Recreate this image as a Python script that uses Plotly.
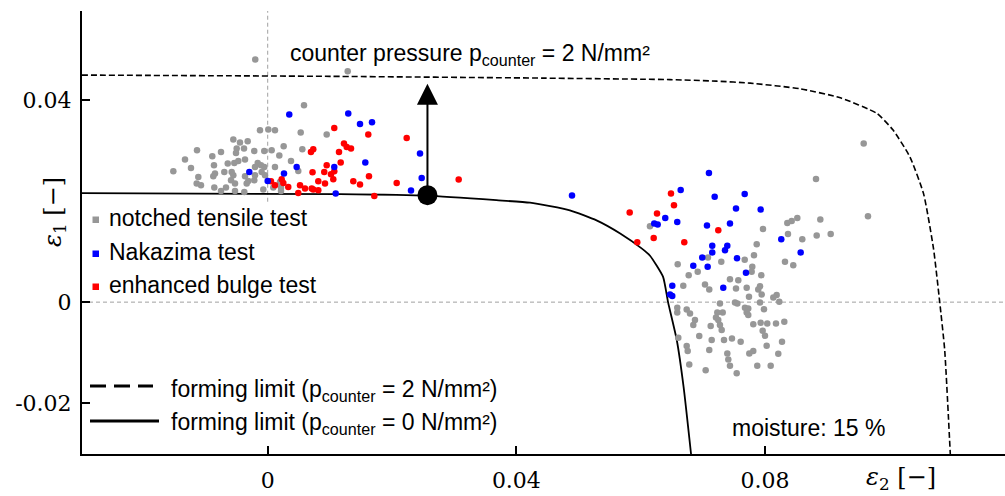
import plotly.graph_objects as go

# ---------------- data ----------------
notched_x = [-0.0020, 0.01287, 0.00584, -0.00124, 0.0001, 0.00117, 0.00531, 0.00949, -0.00553, -0.00446,
             -0.00322, -0.00499, -0.00381, -0.01137, -0.00751, -0.0051, -0.00216, -0.00055, 0.00064, 0.00257,
             0.00557, -0.00891, -0.00365, 0.00187, -0.0133, -0.00643, -0.00537, -0.00473, -0.00161, -0.00108,
             0.00375, -0.00864, -0.00204, -0.00055, 0.00117, -0.01234, -0.01518, -0.00698, -0.00848, -0.00097,
             -0.00579, -0.00875, -0.00553, -0.00365, -0.00204, -0.00043, -0.01116, -0.0059, -0.00312, -0.00216,
             -0.01142, -0.01073, -0.00526, -0.00338, 0.00198, -0.00859, -0.00671, 0.0009, 0.00214, -0.00751,
             -0.00526, -0.00376, -0.00071, 0.00214, 0.00492,
             0.06149, 0.06595, 0.07082, 0.09587, 0.0882, 0.09656, 0.08519, 0.08358, 0.08429, 0.08889,
             0.07967, 0.08369, 0.08599, 0.08831, 0.09056, 0.07866, 0.07822, 0.07673, 0.07296, 0.08321,
             0.08454, 0.07795, 0.06772, 0.06917, 0.07785, 0.0794, 0.07436, 0.0757, 0.06685, 0.07034,
             0.07103, 0.07533, 0.07705, 0.07919, 0.07891, 0.07946, 0.07742, 0.08187, 0.08133, 0.08229,
             0.07275, 0.07517, 0.07554, 0.07919, 0.06588, 0.0674, 0.06793, 0.06588, 0.07677, 0.0773,
             0.07705, 0.0773, 0.07983, 0.07232, 0.07319, 0.07211, 0.07248, 0.06873, 0.06846, 0.07126,
             0.07275, 0.07303, 0.07811, 0.0793, 0.08036, 0.08176, 0.0831, 0.07962, 0.07999, 0.06605,
             0.06942, 0.07142, 0.0734, 0.07468, 0.07608, 0.08273, 0.0674, 0.06756, 0.07103, 0.08026,
             0.07393, 0.07409, 0.07747, 0.07811, 0.08213, 0.06781, 0.07436, 0.07875, 0.08091, 0.07045,
             0.07544]
notched_y = [0.0481, 0.04574, 0.03901, 0.03406, 0.0342, 0.03406, 0.0336, 0.03321, 0.03222, 0.03162,
             0.03188, 0.03044, 0.03044, 0.0301, 0.02976, 0.02956, 0.02996, 0.02996, 0.0301, 0.03089,
             0.0303, 0.02891, 0.02826, 0.02905, 0.02826, 0.02747, 0.02758, 0.02798, 0.02758, 0.02713,
             0.02798, 0.02713, 0.02679, 0.02679, 0.02679, 0.02659, 0.02594, 0.0258, 0.02549, 0.0258,
             0.0258, 0.02495, 0.02515, 0.02495, 0.02515, 0.02515, 0.02481, 0.02416, 0.02402, 0.02416,
             0.0235, 0.02317, 0.0235, 0.0235, 0.02382, 0.02271, 0.02271, 0.02271, 0.02271, 0.02204,
             0.02204, 0.02184, 0.02232, 0.02204, 0.026,
             0.01505, 0.00752, 0.00885, 0.03143, 0.02442, 0.01703, 0.01669, 0.0157, 0.0161, 0.01638,
             0.01451, 0.01352, 0.01248, 0.01321, 0.01352, 0.01149, 0.00931, 0.00838, 0.00798, 0.00798,
             0.00733, 0.00699, 0.00535, 0.006, 0.006, 0.00535, 0.00455, 0.00436, 0.00323, 0.0035,
             0.00251, 0.00271, 0.00283, 0.00317, 0.00251, 0.00152, 0.00105, 0.00139, 0.00093, 0.00006,
             -0.00026, -0.00006, -0.00026, -0.00006, -0.00113, -0.00145, -0.00224, -0.00204, -0.00113, -0.00125,
             -0.00204, -0.00257, -0.00139, -0.00204, -0.00204, -0.00303, -0.00356, -0.00356, -0.00455, -0.00475,
             -0.00455, -0.00554, -0.00436, -0.0041, -0.00422, -0.00422, -0.0039, -0.00568, -0.00667, -0.00707,
             -0.00673, -0.00752, -0.00752, -0.00719, -0.00786, -0.00786, -0.00871, -0.0097, -0.0095, -0.00865,
             -0.01016, -0.01135, -0.01016, -0.0097, -0.01024, -0.01234, -0.01261, -0.01261, -0.01261, -0.01352,
             -0.01412]

nakazima_x = [-0.00296, 0.0, 0.00262, 0.00347, 0.00466, 0.01071, 0.01094, 0.01296, 0.01485, 0.01678,
              0.0157, 0.0245, 0.02477, 0.02305, 0.04895,
              0.07098, 0.06643, 0.0719, 0.06395, 0.06588, 0.06218, 0.06273, 0.07066, 0.07151, 0.07151,
              0.0699, 0.06846, 0.07077, 0.07673, 0.07533, 0.0793, 0.07436, 0.08261, 0.07393, 0.07356,
              0.08573, 0.07549, 0.07693, 0.06508, 0.07328, 0.06471, 0.06508]
nakazima_y = [0.0258, 0.02402, 0.02549, 0.03717, 0.02679, 0.02679, 0.02152, 0.03737, 0.03531, 0.03564,
              0.02766, 0.02945, 0.02461, 0.02212, 0.02113,
              0.0256, 0.02224, 0.02089, 0.01669, 0.0159, 0.01558, 0.01539, 0.01519, 0.01115, 0.00984,
              0.00885, 0.00719, 0.00699, 0.02145, 0.01855, 0.01836, 0.01558, 0.01248, 0.01115, 0.0103,
              0.00984, 0.00871, 0.0058, 0.00323, 0.00283, 0.00152, 0.00119]

bulge_x = [0.00053, 0.00117, 0.00225, 0.00251, 0.00331, 0.0052, 0.006, 0.00708, 0.00492, 0.00696,
           0.00733, 0.00721, 0.00814, 0.00814, 0.00922, 0.0091, 0.00949, 0.01018, 0.01055, 0.01071,
           0.01071, 0.01147, 0.01174, 0.01227, 0.01271, 0.0134, 0.01377, 0.01485, 0.01618, 0.01629,
           0.01715, 0.02075, 0.02236, 0.03072, 0.00733,
           0.06487, 0.06535, 0.05823, 0.06262, 0.06209, 0.06701, 0.05945, 0.07248]
bulge_y = [0.02396, 0.02317, 0.02436, 0.02362, 0.02283, 0.02317, 0.02251, 0.02251, 0.02164, 0.02976,
           0.0303, 0.02574, 0.02396, 0.02218, 0.0235, 0.0258, 0.02713, 0.02535, 0.02436, 0.02594,
           0.03451, 0.02976, 0.02766, 0.03143, 0.03075, 0.03044, 0.02396, 0.02331, 0.03321, 0.02495,
           0.02105, 0.02362, 0.03253, 0.0243, 0.02232,
           0.02152, 0.01921, 0.01776, 0.01756, 0.01273, 0.01188, 0.01188, 0.01426]

fl0_x = [-0.0299, 0.0116, 0.0257, 0.0368, 0.0422, 0.0486, 0.0529, 0.0567, 0.0602, 0.0615,
         0.0636, 0.0644, 0.0658, 0.0669, 0.0681]
fl0_y = [0.0216, 0.0214, 0.0211, 0.0202, 0.0197, 0.0182, 0.0162, 0.0136, 0.0106, 0.0092,
         0.0050, 0.0, -0.0075, -0.0168, -0.0301]

fl2_x = [-0.0299, 0.0100, 0.0443, 0.0647, 0.0722, 0.0776, 0.0856, 0.0921, 0.0980, 0.1006,
         0.1033, 0.1055, 0.1071, 0.1081, 0.1089, 0.1098]
fl2_y = [0.0450, 0.04475, 0.0444, 0.0441, 0.0438, 0.0434, 0.0423, 0.0405, 0.0374, 0.0341,
         0.0288, 0.0215, 0.0106, 0.0, -0.0095, -0.0301]

point_x = [0.0257]
point_y = [0.0212]
arrow_tip_y = 0.0433

x_tick_vals = [0, 0.04, 0.08]
x_tick_text = ["0", "0.04", "0.08"]
y_tick_vals = [-0.02, 0, 0.04]
y_tick_text = ["-0.02", "0", "0.04"]

x_range = [-0.02987, 0.1186]
y_range = [-0.0301, 0.0577]

# ---------------- layout helpers ----------------
W, H = 1005, 496
L, R, T, B = 82, 0, 11, 42
PW, PH = W - L - R, H - T - B


def px(xp):
    return (xp - L) / PW


def py(yp):
    return (H - B - yp) / PH


SANS = "Liberation Sans, Arial, sans-serif"
SERIF = "DejaVu Serif, serif"
GREY = "#979797"

fig = go.Figure()

fig.add_trace(go.Scatter(x=fl2_x, y=fl2_y, mode="lines",
                         line=dict(color="black", width=1.6, dash="6px,3px", shape="spline", smoothing=0.5),
                         showlegend=False, hoverinfo="skip"))
fig.add_trace(go.Scatter(x=fl0_x, y=fl0_y, mode="lines",
                         line=dict(color="black", width=1.8, shape="spline", smoothing=0.5),
                         showlegend=False, hoverinfo="skip"))

fig.add_trace(go.Scatter(x=notched_x, y=notched_y, mode="markers",
                         marker=dict(color=GREY, size=6.5, line=dict(width=0)), showlegend=False))
fig.add_trace(go.Scatter(x=bulge_x, y=bulge_y, mode="markers",
                         marker=dict(color="#ff0000", size=6.5, line=dict(width=0)), showlegend=False))
fig.add_trace(go.Scatter(x=nakazima_x, y=nakazima_y, mode="markers",
                         marker=dict(color="#0000ff", size=6.5, line=dict(width=0)), showlegend=False))

fig.add_trace(go.Scatter(x=point_x, y=point_y, mode="markers",
                         marker=dict(color="black", size=20), showlegend=False))

annotations = []
# arrow
annotations.append(dict(x=point_x[0], y=arrow_tip_y, ax=point_x[0], ay=point_y[0],
                        xref="x", yref="y", axref="x", ayref="y", text="",
                        showarrow=True, arrowhead=2, arrowsize=2.1, arrowwidth=2, arrowcolor="black"))

sub_txt = "p<sub>counter</sub>"
annotations.append(dict(x=px(288), y=py(55), xref="paper", yref="paper", xanchor="left", yanchor="middle",
                        text="counter pressure " + sub_txt + " = 2 N/mm²", showarrow=False,
                        font=dict(family=SANS, size=23, color="black")))
annotations.append(dict(x=px(730), y=py(428), xref="paper", yref="paper", xanchor="left", yanchor="middle",
                        text="moisture: 15 %", showarrow=False,
                        font=dict(family=SANS, size=23, color="black")))

# legend texts
leg_items = [("notched tensile test", 218, GREY), ("Nakazima test", 252, "#0000ff"),
             ("enhanced bulge test", 285, "#ff0000")]
shapes = []
for txt, yc, col in leg_items:
    annotations.append(dict(x=px(107), y=py(yc), xref="paper", yref="paper", xanchor="left", yanchor="middle",
                            text=txt, showarrow=False, font=dict(family=SANS, size=23, color="black")))
    shapes.append(dict(type="rect", xref="paper", yref="paper", x0=px(92.5), x1=px(99), y0=py(yc + 5),
                       y1=py(yc - 1.5), fillcolor=col, line=dict(width=0)))

annotations.append(dict(x=px(169), y=py(390), xref="paper", yref="paper", xanchor="left", yanchor="middle",
                        text="forming limit (" + sub_txt + " = 2 N/mm²)", showarrow=False,
                        font=dict(family=SANS, size=23, color="black")))
annotations.append(dict(x=px(169), y=py(423), xref="paper", yref="paper", xanchor="left", yanchor="middle",
                        text="forming limit (" + sub_txt + " = 0 N/mm²)", showarrow=False,
                        font=dict(family=SANS, size=23, color="black")))
shapes.append(dict(type="line", xref="paper", yref="paper", x0=px(90), x1=px(153), y0=py(386), y1=py(386),
                   line=dict(color="black", width=3, dash="16px,8px")))
shapes.append(dict(type="line", xref="paper", yref="paper", x0=px(90), x1=px(159), y0=py(421), y1=py(421),
                   line=dict(color="black", width=3)))

# axis titles
annotations.append(dict(x=px(901), y=py(478), xref="paper", yref="paper", xanchor="center", yanchor="middle",
                        text="<i>ε</i><sub>2</sub> [−]", showarrow=False,
                        font=dict(family=SERIF, size=24, color="black")))
annotations.append(dict(x=px(54), y=py(212), xref="paper", yref="paper", xanchor="center", yanchor="middle",
                        text="<i>ε</i><sub>1</sub> [−]", showarrow=False, textangle=-90,
                        font=dict(family=SERIF, size=24, color="black")))

# zero reference lines
shapes.append(dict(type="line", xref="x", yref="y", x0=0, x1=0, y0=0.0199, y1=y_range[1],
                   line=dict(color="#a0a0a0", width=1, dash="4px,3px"), layer="below"))
shapes.append(dict(type="line", xref="paper", yref="y", x0=0, x1=1, y0=0, y1=0,
                   line=dict(color="#a0a0a0", width=1, dash="4px,3px"), layer="below"))

fig.update_layout(
    width=W, height=H,
    margin=dict(l=L, r=R, t=T, b=B, pad=0),
    paper_bgcolor="white", plot_bgcolor="white",
    annotations=annotations, shapes=shapes,
    showlegend=False,
)
fig.update_xaxes(range=x_range, tickvals=x_tick_vals, ticktext=x_tick_text,
                 showgrid=False, zeroline=False, showline=True, linecolor="black", linewidth=2,
                 ticks="inside", ticklen=8, tickwidth=1.5, tickcolor="black",
                 tickfont=dict(family=SERIF, size=22, color="black"), ticklabelstandoff=6)
fig.update_yaxes(range=y_range, tickvals=y_tick_vals, ticktext=y_tick_text,
                 showgrid=False, zeroline=False, showline=True, linecolor="black", linewidth=2,
                 ticks="inside", ticklen=8, tickwidth=1.5, tickcolor="black",
                 tickfont=dict(family=SERIF, size=22, color="black"), ticklabelstandoff=4)

fig.write_html("out.html", config={"displayModeBar": False},
               post_script="document.body.style.margin='0';document.body.style.overflow='hidden';")
